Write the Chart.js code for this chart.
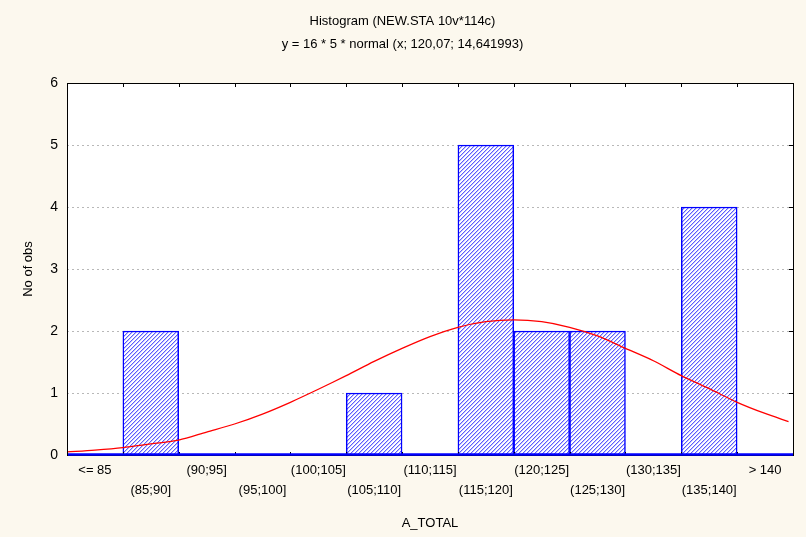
<!DOCTYPE html>
<html>
<head>
<meta charset="utf-8">
<script src="https://cdn.jsdelivr.net/npm/chart.js@4.4.1/dist/chart.umd.min.js"></script>
<style>
  html, body { margin: 0; padding: 0; background: #fff; }
  #wrap { width: 806px; height: 537px; }
</style>
</head>
<body>
<div id="wrap"><canvas id="myChart" width="806" height="537"></canvas></div>
<script>
// histogram classes and counts
const categories = ['<= 85', '(85;90]', '(90;95]', '(95;100]', '(100;105]', '(105;110]', '(110;115]',
  '(115;120]', '(120;125]', '(125;130]', '(130;135]', '(135;140]', '> 140']
const counts = [0, 2, 0, 0, 0, 1, 0, 5, 2, 2, 0, 4, 0]

// fitted normal curve
const curveX = [80, 82.5, 85, 87.5, 90, 92.5, 95, 97.5, 100, 102.5, 105, 107.5, 110, 112.5, 115, 117.5,
  120, 122.5, 125, 127.5, 130, 132.5, 135, 137.5, 140, 142.5, 144.6]
const curveY = [0.05, 0.08, 0.12, 0.18, 0.24, 0.37, 0.50, 0.66, 0.85, 1.06, 1.28, 1.51, 1.72, 1.91, 2.06, 2.15,
  2.18, 2.15, 2.06, 1.92, 1.72, 1.52, 1.28, 1.07, 0.85, 0.67, 0.54]

const yTicks = [0, 1, 2, 3, 4, 5, 6]

const titleLines = ['Histogram (NEW.STA 10v*114c)', 'y = 16 * 5 * normal (x; 120,07; 14,641993)']
const xTitle = 'A_TOTAL'
const yTitle = 'No of obs'

const FONT = 'Liberation Sans, Arial, sans-serif'

// hatch fill for the bars
function hatch() {
  let c = document.createElement('canvas')
  c.width = 4
  c.height = 4
  let g = c.getContext('2d')
  g.fillStyle = '#ffffff'
  g.fillRect(0, 0, 4, 4)
  for (let i = 0; i < 4; i++) {
    g.fillStyle = '#5c5cff'
    g.fillRect(i, 3 - i, 1, 1)
    g.fillStyle = '#c4c4ff'
    g.fillRect(i, (4 - i) % 4, 1, 1)
  }
  return g.createPattern(c, 'repeat')
}

// background + white plot area + dotted grid
const backPlugin = {
  id: 'back',
  beforeDraw(chart) {
    const { ctx, chartArea: a } = chart
    ctx.save()
    ctx.fillStyle = '#fcf8ee'
    ctx.fillRect(0, 0, chart.width, chart.height)
    ctx.fillStyle = '#ffffff'
    ctx.fillRect(a.left, a.top, a.right - a.left, a.bottom - a.top)
    ctx.strokeStyle = '#b8b8b8'
    ctx.lineWidth = 1
    ctx.setLineDash([2, 3])
    const y = chart.scales.y
    yTicks.slice(1, -1).forEach(v => {
      const py = Math.round(y.getPixelForValue(v)) + 0.5
      ctx.beginPath()
      ctx.moveTo(a.left, py)
      ctx.lineTo(a.right, py)
      ctx.stroke()
    })
    ctx.restore()
  }
}

// frame, inner ticks and blue base line
const framePlugin = {
  id: 'frame',
  afterDatasetsDraw(chart) {
    const { ctx, chartArea: a } = chart
    const y = chart.scales.y
    ctx.save()
    ctx.strokeStyle = '#000'
    ctx.lineWidth = 1
    ctx.strokeRect(Math.round(a.left) + 0.5, Math.round(a.top) + 0.5, Math.round(a.right - a.left), Math.round(a.bottom - a.top))
    const step = (a.right - a.left) / categories.length
    for (let i = 1; i < categories.length; i++) {
      const px = Math.round(a.left + i * step) + 0.5
      ctx.beginPath()
      ctx.moveTo(px, a.top)
      ctx.lineTo(px, a.top + 4)
      ctx.moveTo(px, a.bottom)
      ctx.lineTo(px, a.bottom - 3)
      ctx.stroke()
    }
    yTicks.slice(1, -1).forEach(v => {
      const py = Math.round(y.getPixelForValue(v)) + 0.5
      ctx.beginPath()
      ctx.moveTo(a.right, py)
      ctx.lineTo(a.right - 4, py)
      ctx.stroke()
    })
    ctx.strokeStyle = '#0000ff'
    ctx.lineWidth = 2.5
    ctx.beginPath()
    ctx.moveTo(a.left + 1, a.bottom - 0.5)
    ctx.lineTo(a.right, a.bottom - 0.5)
    ctx.stroke()
    ctx.restore()
  }
}

let ctx = document.getElementById('myChart').getContext('2d')
let myChart = new Chart(ctx, {
  data: {
    labels: categories.map((c, i) => i % 2 === 0 ? [c, ''] : ['', c]),
    datasets: [{
      type: 'line',
      data: curveX.map((v, i) => ({ x: v, y: curveY[i] })),
      xAxisID: 'xc',
      borderColor: '#ff0000',
      borderWidth: 1.3,
      pointRadius: 0,
      tension: 0.3,
      order: 0
    }, {
      type: 'bar',
      data: counts,
      xAxisID: 'x',
      backgroundColor: hatch(),
      borderColor: '#0000ff',
      borderWidth: 1.5,
      grouped: false,
      barPercentage: 1,
      categoryPercentage: 1,
      order: 1
    }]
  },
  options: {
    responsive: false,
    maintainAspectRatio: false,
    animation: false,
    layout: { padding: { left: 12, right: 13, top: 10, bottom: 6 } },
    plugins: {
      legend: { display: false },
      tooltip: { enabled: false },
      title: {
        display: true,
        text: titleLines,
        color: '#000',
        font: { family: FONT, size: 13, weight: 'normal', lineHeight: 1.77 },
        padding: { top: 0, bottom: 27 }
      }
    },
    scales: {
      x: {
        type: 'category',
        offset: true,
        grid: { display: false, drawTicks: false },
        border: { display: false },
        ticks: {
          autoSkip: false, maxRotation: 0, padding: 5, color: '#000',
          font: { family: FONT, size: 13, lineHeight: 1.55 }
        },
        title: { display: true, text: xTitle, color: '#000', font: { family: FONT, size: 13 }, padding: { top: 0, bottom: 0 } },
        afterFit(s) { s.height = 76 }
      },
      xc: {
        type: 'linear',
        display: false,
        min: 80,
        max: 145
      },
      y: {
        min: 0,
        max: 6,
        grid: { display: false, drawTicks: false },
        border: { display: false },
        ticks: { stepSize: 1, padding: 9, color: '#000', font: { family: FONT, size: 14 } },
        title: { display: true, text: yTitle, color: '#000', font: { family: FONT, size: 13 }, padding: { top: 9, bottom: 0 } },
        afterFit(s) { s.width = 55 }
      }
    }
  },
  plugins: [backPlugin, framePlugin]
})
</script>
</body>
</html>
